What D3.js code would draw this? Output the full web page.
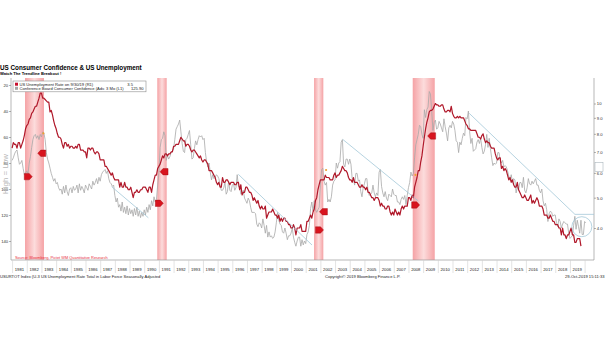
<!DOCTYPE html>
<html>
<head>
<meta charset="utf-8">
<script src="https://cdn.jsdelivr.net/npm/d3@7"></script>
<style>
  html, body { margin: 0; padding: 0; background: #fff; }
  svg { display: block; font-family: "Liberation Sans", Arial, sans-serif; }
</style>
</head>
<body>
<svg id="chart" width="605" height="341"></svg>
<script>
// ---- data -------------------------------------------------------------
// US unemployment rate (U-3, %), monthly, first value = Dec 1980
const unempStart = [1980, 12];
const unemployment = [
  7.2,
  7.5,7.4,7.4,7.2,7.5,7.5,7.2,7.4,7.6,7.9,8.3,8.5,
  8.6,8.9,9.0,9.3,9.4,9.6,9.8,9.8,10.1,10.4,10.8,10.8,
  10.4,10.4,10.3,10.2,10.1,10.1,9.4,9.5,9.2,8.8,8.5,8.3,
  8.0,7.8,7.8,7.7,7.4,7.2,7.5,7.5,7.3,7.4,7.2,7.3,
  7.3,7.2,7.2,7.3,7.2,7.4,7.4,7.1,7.1,7.1,7.0,7.0,
  6.7,7.2,7.2,7.1,7.2,7.2,7.0,6.9,7.0,7.0,6.9,6.6,
  6.6,6.6,6.6,6.3,6.3,6.2,6.1,6.0,5.9,6.0,5.8,5.7,
  5.7,5.7,5.7,5.4,5.6,5.4,5.4,5.6,5.4,5.4,5.3,5.3,
  5.4,5.2,5.0,5.2,5.2,5.3,5.2,5.2,5.3,5.3,5.4,5.4,
  5.4,5.3,5.2,5.4,5.4,5.2,5.5,5.7,5.9,5.9,6.2,6.3,
  6.4,6.6,6.8,6.7,6.9,6.9,6.8,6.9,6.9,7.0,7.0,7.3,
  7.3,7.4,7.4,7.4,7.6,7.8,7.7,7.6,7.6,7.3,7.4,7.4,
  7.3,7.1,7.0,7.1,7.1,7.0,6.9,6.8,6.7,6.8,6.6,6.5,
  6.6,6.6,6.5,6.4,6.1,6.1,6.1,6.0,5.9,5.8,5.6,5.5,
  5.6,5.4,5.4,5.8,5.6,5.6,5.7,5.7,5.6,5.5,5.6,5.6,
  5.6,5.5,5.5,5.6,5.6,5.3,5.5,5.1,5.2,5.2,5.4,5.4,
  5.3,5.2,5.2,5.1,4.9,5.0,4.9,4.8,4.9,4.7,4.6,4.7,
  4.6,4.6,4.7,4.3,4.4,4.5,4.5,4.5,4.6,4.5,4.4,4.4,
  4.3,4.4,4.2,4.3,4.2,4.3,4.3,4.2,4.2,4.1,4.1,4.0,
  4.0,4.1,4.0,3.8,4.0,4.0,4.0,4.1,3.9,3.9,3.9,3.9,
  4.2,4.2,4.3,4.4,4.3,4.5,4.6,4.9,5.0,5.3,5.5,5.7,
  5.7,5.7,5.7,5.9,5.8,5.8,5.8,5.7,5.7,5.7,5.9,6.0,
  5.8,5.9,5.9,6.0,6.1,6.3,6.2,6.1,6.1,6.0,5.8,5.7,
  5.7,5.6,5.8,5.6,5.6,5.6,5.5,5.4,5.4,5.5,5.4,5.4,
  5.3,5.4,5.2,5.2,5.1,5.0,5.0,4.9,5.0,5.0,5.0,4.9,
  4.7,4.8,4.7,4.7,4.6,4.6,4.7,4.7,4.5,4.4,4.5,4.4,
  4.6,4.5,4.4,4.5,4.4,4.6,4.7,4.6,4.7,4.7,4.7,5.0,
  5.0,4.9,5.1,5.0,5.4,5.6,5.8,6.1,6.1,6.5,6.8,7.3,
  7.8,8.3,8.7,9.0,9.4,9.5,9.5,9.6,9.8,10.0,9.9,9.9,
  9.8,9.8,9.9,9.9,9.6,9.4,9.4,9.5,9.5,9.4,9.8,9.3,
  9.1,9.0,9.0,9.1,9.0,9.1,9.0,9.0,9.0,8.8,8.6,8.5,
  8.3,8.3,8.2,8.2,8.2,8.2,8.2,8.0,7.8,7.8,7.7,7.9,
  8.0,7.7,7.5,7.6,7.5,7.5,7.3,7.2,7.2,7.2,6.9,6.7,
  6.6,6.7,6.7,6.2,6.3,6.1,6.2,6.1,5.9,5.7,5.8,5.6,
  5.7,5.5,5.4,5.4,5.6,5.3,5.2,5.1,5.0,5.0,5.1,5.0,
  4.9,4.9,5.0,5.1,4.8,4.9,4.8,4.9,5.0,4.9,4.7,4.7,
  4.7,4.6,4.4,4.4,4.4,4.3,4.3,4.4,4.3,4.2,4.2,4.1,
  4.1,4.1,4.0,4.0,3.8,4.0,3.8,3.8,3.7,3.8,3.8,3.9,
  4.0,3.8,3.8,3.6,3.6,3.7,3.7,3.7,3.5
];

// Conference Board consumer confidence, monthly, first value = Sep 1980,
// drawn three months ahead of its own month
const confStart = [1980, 9];
const confLeadMonths = 3;
const confidence = [
  78,76,73,71,
  70,76,81,80,78,84,89,88,86,88,80,75,
  68,62,59,58,61,59,62,58,60,56,57,62,
  72,77,80,84,88,91,94,92,96,95,99,101,
  100,104,98,103,97,102,105,100,99,103,98,101,
  100,97,103,96,101,98,100,103,97,99,101,96,
  98,100,94,97,95,92,96,91,94,89,87,86,
  85,88,86,92,95,96,98,97,105,110,107,114,
  112,117,110,118,114,119,113,120,115,119,116,121,
  115,120,114,121,117,122,118,121,116,120,114,118,
  112,116,109,113,106,110,108,97,88,68,62,61,
  56,59,78,74,77,75,72,71,69,62,54,52,
  50,47,56,65,71,72,62,61,58,55,66,77,
  76,69,63,66,62,59,60,59,62,61,72,79,
  83,80,87,93,89,92,91,89,90,92,97,101,
  101,99,95,104,102,94,101,102,97,96,101,99,
  89,98,98,104,103,101,107,109,111,107,109,114,
  118,118,118,119,127,129,126,127,130,123,128,134,
  128,137,133,137,136,138,137,133,126,118,124,127,
  128,133,134,130,134,139,136,136,134,130,137,141,
  144,140,137,137,144,139,143,140,142,135,133,128,
  115,110,117,109,116,118,116,114,97,85,84,94,
  97,95,110,108,110,106,97,94,93,80,84,80,
  79,64,62,81,83,77,77,81,77,81,92,92,
  97,88,88,94,93,102,106,99,96,92,92,102,
  105,104,103,97,103,106,103,105,87,85,98,103,
  106,102,107,109,104,105,106,100,104,105,105,110,
  110,112,108,106,108,105,112,105,99,95,87,90,
  88,76,66,62,58,51,52,58,61,39,45,39,
  37,25,27,40,55,49,47,54,53,48,50,53,
  56,46,52,57,63,53,51,53,48,50,55,63,
  64,72,64,66,61,57,59,45,46,40,56,65,
  61,71,70,69,64,62,65,61,68,73,71,66,
  58,68,61,69,76,82,80,81,80,72,72,78,
  80,78,83,82,83,86,90,93,89,95,92,93,
  103,98,101,95,95,99,91,101,103,99,92,96,
  97,94,96,94,92,97,97,101,103,100,109,113,
  111,116,125,119,117,118,121,120,120,126,129,123,
  125,130,127,125,126,127,127,134,138,137,136,128,
  121,131,124,129,134,124,135,135,125,126
];

// shaded recession periods (decimal years, as drawn)
const recessions = [
  [1981.88, 1983.17],
  [1990.89, 1991.53],
  [2001.57, 2002.20],
  [2008.29, 2009.79]
];

// hand-drawn trendlines on the confidence series: [year, index] pairs
const trendlines = [
  [[1987.78, 98.2], [1990.28, 122.1]],
  [[1996.41, 88.7], [2001.43, 143.1]],
  [[2003.52, 61.8], [2008.67, 109.2]],
  [[2012.14, 41.8], [2019.34, 119.5]]
];
const breakoutLevel = { from: 2019.34, value: 119.5 };
const breakoutCircle = { t: 2019.81, value: 129 };

// signal flags: [year, index, direction]
const signals = [
  [1982.10, 90.5, "right"], [1983.02, 72.5, "left"],
  [1991.03, 111.0, "right"], [1991.35, 86.7, "left"],
  [2001.94, 131.5, "right"], [2002.21, 117.5, "left"],
  [2008.49, 112.3, "right"], [2009.58, 59.2, "left"]
];
const peakDots = [[1983.13, 57.2], [2002.39, 85.4], [2008.48, 89.2]];

const years = [1981,1982,1983,1984,1985,1986,1987,1988,1989,1990,1991,1992,1993,
  1994,1995,1996,1997,1998,1999,2000,2001,2002,2003,2004,2005,2006,2007,2008,
  2009,2010,2011,2012,2013,2014,2015,2016,2017,2018,2019];
const leftTicks = [20, 40, 60, 80, 100, 120, 140];
const rightTicks = [4, 5, 6, 7, 8, 9, 10];

const legendRows = [
  { label: "US Unemployment Rate on 9/30/19 (R1)", value: "3.5", color: "#c8102e" },
  { label: "Conference Board Consumer Confidence (Adv. 3 Mo (L1)", value: "125.90", color: "#a6a6a6" }
];

// ---- layout -----------------------------------------------------------
const plot = { left: 11, right: 594, top: 78, bottom: 260 };
const svg = d3.select("#chart");

const x = d3.scaleLinear().domain([1981, 2020]).range([12.1, 12.1 + 39 * 14.68]);
const yL = d3.scaleLinear().domain([20, 140]).range([85, 241]);
const yR = d3.scaleLog().domain([4, 10]).range([228, 103.5]);

const monthT = (start, i) => start[0] + (start[1] + i) / 12;

const unempPts = unemployment.map((v, i) => [monthT(unempStart, i), v]);
const confPts = confidence.map((v, i) => [monthT(confStart, i) + confLeadMonths / 12, v]);

const defs = svg.append("defs");
defs.append("clipPath").attr("id", "plotClip").append("rect")
  .attr("x", plot.left).attr("y", plot.top)
  .attr("width", plot.right - plot.left).attr("height", plot.bottom - plot.top);
const grad = defs.append("linearGradient").attr("id", "recGrad")
  .attr("x1", "0%").attr("x2", "100%").attr("y1", "0%").attr("y2", "0%");
grad.append("stop").attr("offset", "0%").attr("stop-color", "#f5a2a5");
grad.append("stop").attr("offset", "50%").attr("stop-color", "#fcdcdc");
grad.append("stop").attr("offset", "100%").attr("stop-color", "#f5a2a5");

// title
svg.append("text").attr("x", 0).attr("y", 70)
  .attr("font-size", 6.3).attr("font-weight", "bold").attr("fill", "#000")
  .text("US Consumer Confidence & US Unemployment");
svg.append("text").attr("x", 0).attr("y", 75.3)
  .attr("font-size", 4.1).attr("font-weight", "bold").attr("fill", "#000")
  .text("Watch The Trendline Breakout !");

// recession bands
svg.append("g").selectAll("rect").data(recessions).join("rect")
  .attr("x", d => x(d[0])).attr("width", d => x(d[1]) - x(d[0]))
  .attr("y", plot.top).attr("height", plot.bottom - plot.top)
  .attr("fill", "url(#recGrad)");

// frame
const frame = svg.append("g").attr("stroke", "#9a9a9a").attr("stroke-width", 0.7);
frame.append("line").attr("x1", plot.left).attr("x2", plot.left).attr("y1", plot.top).attr("y2", plot.bottom);
frame.append("line").attr("x1", plot.right).attr("x2", plot.right).attr("y1", plot.top).attr("y2", plot.bottom);
frame.append("line").attr("x1", plot.left).attr("x2", plot.right).attr("y1", plot.bottom).attr("y2", plot.bottom);

// x axis: year separators with centred labels
const xAxis = svg.append("g").attr("transform", `translate(0,${plot.bottom})`)
  .call(d3.axisBottom(x).tickValues(years.concat([2020])).tickSize(13).tickFormat(""));
xAxis.select(".domain").remove();
xAxis.selectAll(".tick line").attr("stroke", "#d0d0d0").attr("stroke-width", 0.6);
svg.append("g").selectAll("text").data(years).join("text")
  .attr("x", d => x(d + 0.5)).attr("y", 271)
  .attr("text-anchor", "middle").attr("font-size", 4.2).attr("fill", "#222")
  .text(d => d);

// left axis (confidence, inverted)
const left = svg.append("g").attr("transform", `translate(${plot.left},0)`)
  .call(d3.axisLeft(yL).tickValues(leftTicks).tickSize(2).tickPadding(0.8).tickFormat(d3.format("d")));
left.select(".domain").remove();
left.selectAll(".tick line").attr("stroke", "#666").attr("stroke-width", 0.5);
left.selectAll(".tick text").attr("font-size", 4.2).attr("fill", "#333").attr("font-family", null);

// right axis (unemployment, log)
const right = svg.append("g").attr("transform", `translate(${plot.right},0)`)
  .call(d3.axisRight(yR).tickValues(rightTicks).tickSize(2).tickPadding(0.8)
    .tickFormat(d => d === 10 ? "10" : d3.format(".1f")(d)));
right.select(".domain").remove();
right.selectAll(".tick line").attr("stroke", "#666").attr("stroke-width", 0.5);
right.selectAll(".tick text").attr("font-size", 4.2).attr("fill", "#333").attr("font-family", null);

// small marker box on the right axis
svg.append("rect").attr("x", plot.right + 1).attr("y", 162.5).attr("width", 8).attr("height", 9)
  .attr("fill", "none").attr("stroke", "#9aa8b0").attr("stroke-width", 0.5);

// vertical axis note
svg.append("text")
  .attr("transform", `translate(8.3,${(158 + 190) / 2}) rotate(-90)`)
  .attr("text-anchor", "middle").attr("font-size", 8).attr("fill", "#b8b8b8")
  .text("High = Low");

// series
const g = svg.append("g").attr("clip-path", "url(#plotClip)");
g.append("path").datum(confPts)
  .attr("fill", "none").attr("stroke", "#a8a8a8").attr("stroke-width", 0.8)
  .attr("stroke-linejoin", "round")
  .attr("d", d3.line().x(d => x(d[0])).y(d => yL(d[1])));
g.append("path").datum(unempPts)
  .attr("fill", "none").attr("stroke", "#b0182a").attr("stroke-width", 1.2)
  .attr("stroke-linejoin", "round")
  .attr("d", d3.line().x(d => x(d[0])).y(d => yR(d[1])));

// trendlines
const tl = g.append("g").attr("stroke", "#9ec4d6").attr("stroke-width", 0.75).attr("fill", "none");
tl.selectAll("line").data(trendlines).join("line")
  .attr("x1", d => x(d[0][0])).attr("y1", d => yL(d[0][1]))
  .attr("x2", d => x(d[1][0])).attr("y2", d => yL(d[1][1]));
tl.append("line")
  .attr("x1", x(breakoutLevel.from)).attr("x2", plot.right)
  .attr("y1", yL(breakoutLevel.value)).attr("y2", yL(breakoutLevel.value));
tl.append("circle").attr("cx", x(breakoutCircle.t)).attr("cy", yL(breakoutCircle.value)).attr("r", 10);

// peak dots
g.append("g").selectAll("circle").data(peakDots).join("circle")
  .attr("cx", d => x(d[0])).attr("cy", d => yL(d[1])).attr("r", 1.1)
  .attr("fill", "#f0a030");

// signal flags
const flagRight = "M-4,-3.2 L1,-3.2 L4,0 L1,3.2 L-4,3.2 Z";
const flagLeft = "M4,-3.2 L-1,-3.2 L-4,0 L-1,3.2 L4,3.2 Z";
svg.append("g").selectAll("path").data(signals).join("path")
  .attr("transform", d => `translate(${x(d[0])},${yL(d[1])})`)
  .attr("d", d => d[2] === "right" ? flagRight : flagLeft)
  .attr("fill", "#d8141e").attr("stroke", "#9a0a10").attr("stroke-width", 0.4)
  .attr("stroke-linejoin", "round");

// legend
const lg = svg.append("g");
lg.append("rect").attr("x", 13).attr("y", 81).attr("width", 133).attr("height", 10.8)
  .attr("fill", "#fff").attr("stroke", "#8c8c8c").attr("stroke-width", 0.6);
legendRows.forEach((r, i) => {
  const yy = 85.7 + i * 4.1;
  lg.append("rect").attr("x", 15).attr("y", yy - 3).attr("width", 3).attr("height", 3).attr("fill", r.color);
  lg.append("text").attr("x", 19.5).attr("y", yy).attr("font-size", 4.1).attr("fill", "#222").text(r.label);
  lg.append("text").attr("x", i === 0 ? 133 : 143.5).attr("y", yy).attr("text-anchor", "end")
    .attr("font-size", 4.1).attr("fill", "#222").text(r.value);
});

// source and footers
svg.append("text").attr("x", 15).attr("y", 259).attr("font-size", 3.9).attr("fill", "#e8303c")
  .text("Source: Bloomberg, Pictet WM Quantitative Research");
svg.append("text").attr("x", 0).attr("y", 277.5).attr("font-size", 4.1).attr("fill", "#222")
  .text("USURTOT Index (U-3 US Unemployment Rate Total in Labor Force Seasonally Adjusted");
svg.append("text").attr("x", 325).attr("y", 277.5).attr("font-size", 4.1).attr("fill", "#222")
  .text("Copyright\u00a9 2019 Bloomberg Finance L.P.");
svg.append("text").attr("x", 604.5).attr("y", 277.5).attr("text-anchor", "end").attr("font-size", 4.1).attr("fill", "#222")
  .text("29-Oct-2019 15:11:33");
</script>
</body>
</html>
